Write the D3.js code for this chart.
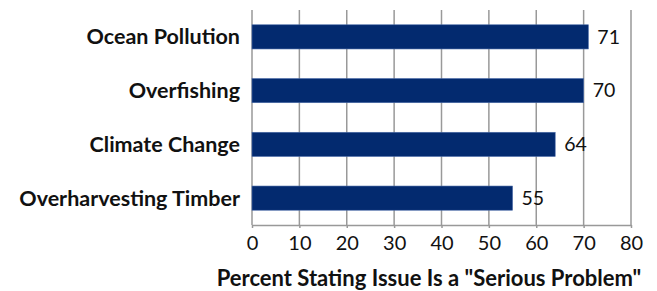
<!DOCTYPE html>
<html>
<head>
<meta charset="utf-8">
<script src="https://cdn.jsdelivr.net/npm/d3@7"></script>
<style>
  body { margin: 0; background: #fff; }
  .cat-label { font-family: Lato, "Open Sans", sans-serif; font-weight: 700; font-size: 21.5px; fill: #111; }
  .val-label { font-family: Lato, "Open Sans", sans-serif; font-size: 19.5px; fill: #111; }
  .x-axis text { font-family: Lato, "Open Sans", sans-serif; font-size: 20px; fill: #111; }
  .axis-title { font-family: Lato, "Open Sans", sans-serif; font-weight: 700; font-size: 22px; fill: #111; }
</style>
</head>
<body>
<div id="chart"></div>
<script>
const categories = ["Ocean Pollution", "Overfishing", "Climate Change", "Overharvesting Timber"];
const values = [71, 70, 64, 55];
const xTicks = [0, 10, 20, 30, 40, 50, 60, 70, 80];
const xTitle = 'Percent Stating Issue Is a "Serious Problem"';

const svgWidth = 657, svgHeight = 291;
const margin = { top: 10, right: 26, bottom: 66, left: 252 };
const chartWidth = svgWidth - margin.left - margin.right;
const chartHeight = svgHeight - margin.top - margin.bottom;

const svg = d3.select("#chart")
  .append("svg")
  .attr("width", svgWidth)
  .attr("height", svgHeight);

const chartG = svg.append("g")
  .attr("transform", `translate(${margin.left},${margin.top})`);

const x = d3.scaleLinear().domain([0, 80]).range([0, chartWidth]);
const y = d3.scaleBand().domain(categories).range([0, chartHeight]).paddingInner(0.55).paddingOuter(0.275);

// vertical grid lines
chartG.append("g")
  .selectAll("line")
  .data(xTicks)
  .join("line")
  .attr("x1", d => x(d))
  .attr("x2", d => x(d))
  .attr("y1", 0)
  .attr("y2", chartHeight)
  .attr("stroke", "#999")
  .attr("stroke-width", 1.5);

// x axis
const xAxis = chartG.append("g")
  .attr("class", "x-axis")
  .attr("transform", `translate(0,${chartHeight})`)
  .call(d3.axisBottom(x).tickValues(xTicks).tickSize(3).tickPadding(8).tickSizeOuter(0));
xAxis.select(".domain").attr("stroke", "#999").attr("stroke-width", 1.5);
xAxis.selectAll(".tick line").attr("stroke", "#999").attr("stroke-width", 1.5);

// bars
const data = categories.map((c, i) => ({ cat: c, val: values[i] }));
chartG.append("g")
  .selectAll("rect")
  .data(data)
  .join("rect")
  .attr("x", x(0))
  .attr("y", d => y(d.cat))
  .attr("width", d => x(d.val) - x(0))
  .attr("height", y.bandwidth())
  .attr("fill", "#032a6f")
  .attr("stroke", "#4a6ba8")
  .attr("stroke-width", 0.6);

// value labels
chartG.append("g")
  .selectAll("text")
  .data(data)
  .join("text")
  .attr("class", "val-label")
  .attr("x", d => x(d.val) + 9)
  .attr("y", d => y(d.cat) + y.bandwidth() / 2)
  .attr("dy", "0.35em")
  .text(d => d.val);

// category labels
chartG.append("g")
  .selectAll("text")
  .data(data)
  .join("text")
  .attr("class", "cat-label")
  .attr("x", -12)
  .attr("y", d => y(d.cat) + y.bandwidth() / 2)
  .attr("dy", "0.35em")
  .attr("text-anchor", "end")
  .text(d => d.cat);

// axis title
svg.append("text")
  .attr("class", "axis-title")
  .attr("x", 429)
  .attr("y", 286)
  .attr("text-anchor", "middle")
  .text(xTitle);
</script>
</body>
</html>
